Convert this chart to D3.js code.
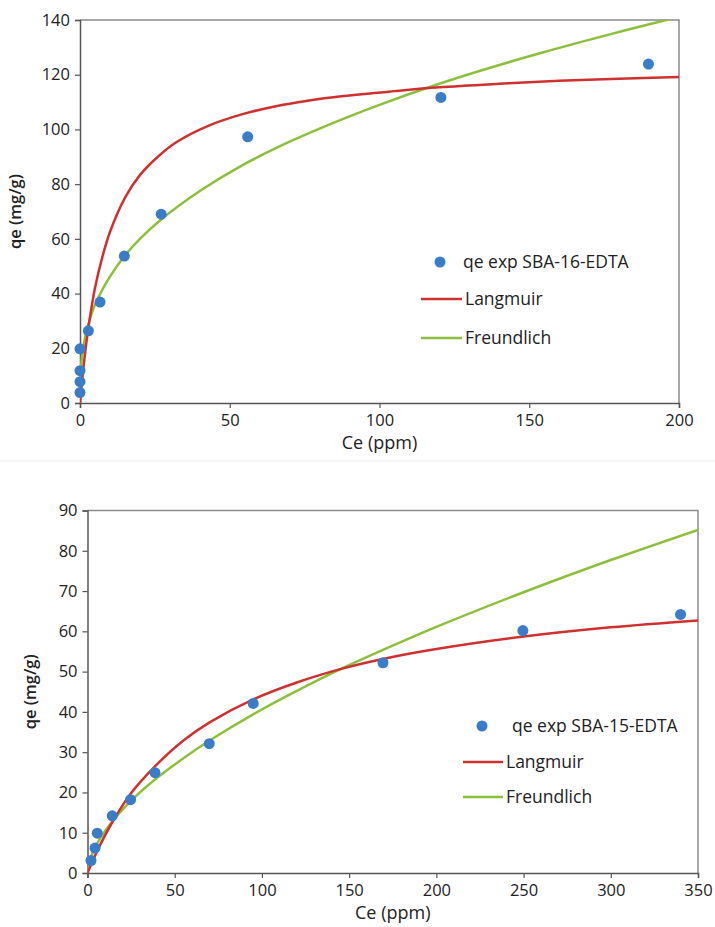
<!DOCTYPE html>
<html>
<head>
<meta charset="utf-8">
<script src="https://cdn.jsdelivr.net/npm/d3@7"></script>
<style>
  body { margin: 0; background: #fff; }
  text { font-family: "Open Sans", sans-serif; fill: #222; }
</style>
</head>
<body>
<div id="chart"></div>
<script>
// --- SBA-16-EDTA (top chart) ---
const sba16Points = [[0, 3.8], [0, 7.8], [0, 11.8], [0, 19.8], [2.8, 26.4], [6.7, 36.9],
  [14.8, 53.7], [27.1, 69], [56, 97.3], [120.5, 111.7], [189.8, 123.9]];
const sba16Langmuir = [[0, 0], [0.5, 6], [1, 11.4], [2, 21], [3, 29], [5, 42], [7.5, 53.5],
  [10, 62.5], [15, 75], [20, 83.3], [26, 90], [32, 95.2], [43, 101.4], [54, 105.5],
  [65, 108.4], [76, 110.5], [88, 112.2], [105, 114], [120, 115.4], [140, 116.7],
  [160, 117.8], [180, 118.5], [200, 119.2]];
const sba16Freundlich = [[0, 0], [0.1, 8.4], [0.5, 15.2], [1, 19.7], [2.6, 28], [5, 35.9],
  [10, 46.2], [15, 53.9], [20, 60], [27, 67], [40, 77.5], [54, 86.8], [70, 95.5],
  [85, 102.6], [100, 109], [117, 115.6], [135, 121.9], [155, 128.3], [175, 134.2],
  [195, 139.8], [200, 141.1]];
const sba16XTicks = [0, 50, 100, 150, 200];
const sba16YTicks = [0, 20, 40, 60, 80, 100, 120, 140];

// --- SBA-15-EDTA (bottom chart) ---
const sba15Points = [[2, 3.1], [4.3, 6.2], [5.6, 9.9], [14.2, 14.2], [24.7, 18.2],
  [38.7, 24.9], [69.8, 32.1], [95, 42.1], [169.4, 52.2], [249.6, 60.2], [340, 64.2]];
const sba15Langmuir = [[0, 0], [5.6, 5.5], [14.2, 12.6], [24.7, 19.7], [38.7, 26.5],
  [55, 32.9], [70, 37.4], [95, 43.1], [120, 47.3], [146.5, 50.8], [170, 53.2],
  [200, 55.6], [250, 58.7], [300, 61], [350, 62.7]];
const sba15Freundlich = [[0, 0], [2, 4], [5.6, 7.4], [14.2, 12.8], [24.7, 17.8],
  [38.7, 23.2], [55, 28.5], [70, 32.9], [95, 39.4], [120, 45.2], [146.5, 50.9],
  [170, 55.5], [200, 61.1], [250, 69.7], [300, 77.7], [350, 85.2]];
const sba15XTicks = [0, 50, 100, 150, 200, 250, 300, 350];
const sba15YTicks = [0, 10, 20, 30, 40, 50, 60, 70, 80, 90];

const blue = "#3a7cc8", red = "#cf3030", green = "#8cc03c";

const svg = d3.select("#chart").append("svg")
    .attr("width", 715)
    .attr("height", 927);

// faint divider between the two panels
svg.append("line")
    .attr("x1", 0).attr("x2", 715)
    .attr("y1", 461).attr("y2", 461)
    .attr("stroke", "#ececec");

function drawChart(opt) {
    const g = svg.append("g");
    const x = d3.scaleLinear().domain(opt.xDomain).range([opt.left, opt.right]);
    const y = d3.scaleLinear().domain(opt.yDomain).range([opt.bottom, opt.top]);

    const clipId = "clip-" + opt.id;
    g.append("clipPath").attr("id", clipId)
      .append("rect")
        .attr("x", opt.left).attr("y", opt.top)
        .attr("width", opt.right - opt.left).attr("height", opt.bottom - opt.top);

    // plot frame (top and right)
    g.append("path")
        .attr("d", `M${opt.left},${opt.top}H${opt.right}V${opt.bottom}`)
        .attr("fill", "none")
        .attr("stroke", "#8a8a8a")
        .attr("stroke-width", 1.5);

    // axes
    const xAxis = g.append("g")
        .attr("transform", `translate(0,${opt.bottom})`)
        .call(d3.axisBottom(x).tickValues(opt.xTicks).tickSize(5).tickPadding(6));
    const yAxis = g.append("g")
        .attr("transform", `translate(${opt.left},0)`)
        .call(d3.axisLeft(y).tickValues(opt.yTicks).tickSize(5).tickPadding(5));
    [xAxis, yAxis].forEach(a => {
        a.select(".domain").attr("stroke", "#555").attr("stroke-width", 1.5);
        a.selectAll(".tick line").attr("stroke", "#555").attr("stroke-width", 1.2);
        a.selectAll(".tick text")
            .style("font-family", "'Open Sans', sans-serif")
            .style("font-size", "16.5px")
            .attr("fill", "#222");
    });

    // axis titles
    g.append("text")
        .attr("x", (opt.left + opt.right) / 2)
        .attr("y", opt.bottom + 46)
        .attr("text-anchor", "middle")
        .style("font-size", "18px")
        .text("Ce (ppm)");
    g.append("text")
        .attr("transform", `translate(${opt.yTitleX},${(opt.top + opt.bottom) / 2}) rotate(-90)`)
        .attr("text-anchor", "middle")
        .style("font-size", "16.5px")
        .style("font-weight", "600")
        .text("qe (mg/g)");

    const line = d3.line()
        .x(d => x(d[0]))
        .y(d => y(d[1]))
        .curve(d3.curveCatmullRom.alpha(0.5));

    const curves = g.append("g").attr("clip-path", `url(#${clipId})`);
    curves.append("path")
        .datum(opt.freundlich)
        .attr("d", line)
        .attr("fill", "none")
        .attr("stroke", green)
        .attr("stroke-width", 2.5);
    curves.append("path")
        .datum(opt.langmuir)
        .attr("d", line)
        .attr("fill", "none")
        .attr("stroke", red)
        .attr("stroke-width", 2.5);

    g.selectAll("circle.pt")
        .data(opt.points)
        .enter().append("circle")
        .attr("class", "pt")
        .attr("cx", d => x(d[0]))
        .attr("cy", d => y(d[1]))
        .attr("r", 5.5)
        .style("fill", blue);

    // legend
    const lg = opt.legend;
    g.append("circle")
        .attr("cx", lg.dotX).attr("cy", lg.y0)
        .attr("r", 5.5).style("fill", blue);
    g.append("text")
        .attr("x", lg.textX0).attr("y", lg.y0 + 6)
        .style("font-size", "17.5px")
        .text(opt.label);
    [["Langmuir", red, lg.y1], ["Freundlich", green, lg.y2]].forEach(([name, col, yy]) => {
        g.append("line")
            .attr("x1", lg.lineX1).attr("x2", lg.lineX2)
            .attr("y1", yy).attr("y2", yy)
            .attr("stroke", col).attr("stroke-width", 2.5);
        g.append("text")
            .attr("x", lg.lineX2 + 3).attr("y", yy + 6)
            .style("font-size", "17.5px")
            .text(name);
    });
}

drawChart({
    id: "sba16",
    xDomain: [0, 200], yDomain: [0, 140],
    left: 80, right: 679, top: 20, bottom: 403,
    xTicks: sba16XTicks, yTicks: sba16YTicks,
    yTitleX: 21,
    points: sba16Points, langmuir: sba16Langmuir, freundlich: sba16Freundlich,
    label: "qe exp SBA-16-EDTA",
    legend: { dotX: 440, textX0: 463, y0: 262, lineX1: 421, lineX2: 462, y1: 299, y2: 338 }
});

drawChart({
    id: "sba15",
    xDomain: [0, 350], yDomain: [0, 90],
    left: 87.5, right: 698, top: 510.5, bottom: 873,
    xTicks: sba15XTicks, yTicks: sba15YTicks,
    yTitleX: 36,
    points: sba15Points, langmuir: sba15Langmuir, freundlich: sba15Freundlich,
    label: "qe exp SBA-15-EDTA",
    legend: { dotX: 482, textX0: 512, y0: 726, lineX1: 463, lineX2: 503, y1: 762, y2: 797 }
});
</script>
</body>
</html>
